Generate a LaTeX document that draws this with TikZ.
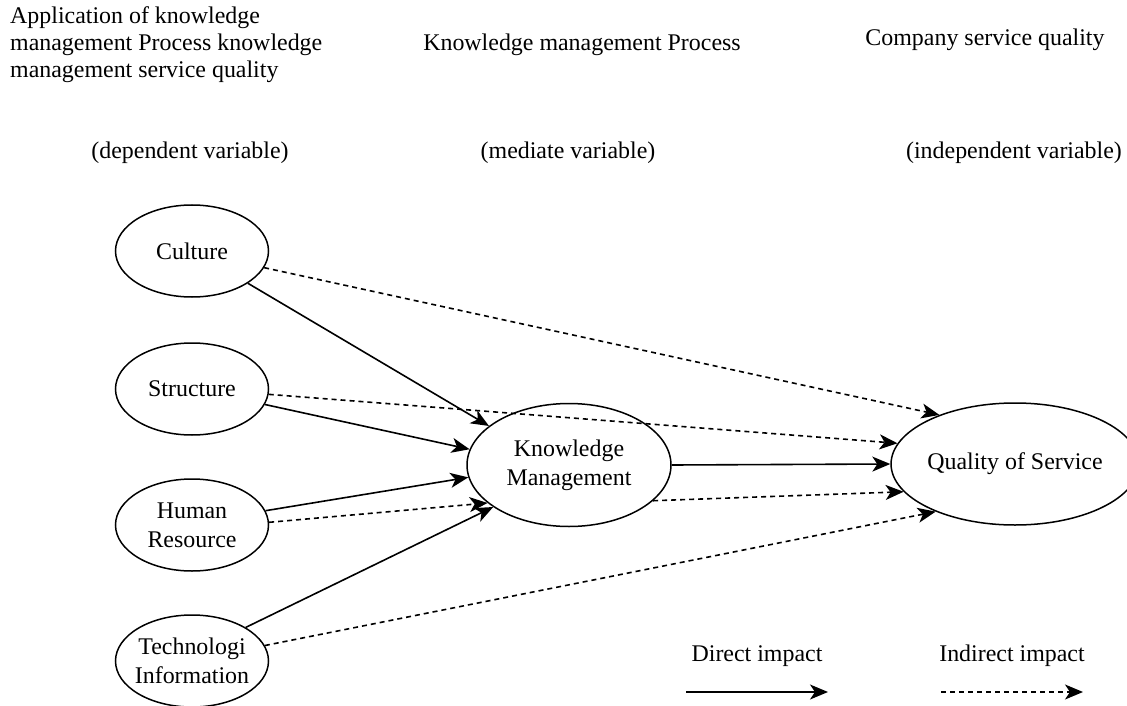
\documentclass[tikz,border=0pt]{standalone}
\usepackage{fontspec}
\setmainfont{Liberation Serif}
\usetikzlibrary{shapes.geometric, arrows.meta}

\begin{document}
\begin{tikzpicture}[x=1bp, y=-1bp, >=Stealth, font=\fontsize{24}{29}\selectfont]
    % Styles
    \tikzstyle{factor} = [ellipse, draw, line width=1.5bp, minimum width=153bp, minimum height=92bp, inner sep=0pt, align=center]
    \tikzstyle{bigfactor} = [factor, minimum width=204bp, minimum height=123bp]
    \tikzstyle{heading} = [inner sep=0pt, align=center]
    \tikzstyle{direct} = [draw, line width=1.6bp, -{Stealth[length=18bp, width=15bp, inset=5bp]}]
    \tikzstyle{indirect} = [direct, dash pattern=on 5bp off 4bp]

    \useasboundingbox (0,0) rectangle (1127,706);

    % Headings
    \node[heading, anchor=west, align=left, font=\fontsize{24}{27}\selectfont] (dephead) at (10,45) {Application of knowledge\\management Process knowledge\\management service quality};
    \node[heading] (medhead) at (582,45) {Knowledge management Process};
    \node[heading] (indhead) at (985,40) {Company service quality};
    \node[heading] (dep) at (190,153) {(dependent variable)};
    \node[heading] (med) at (568,153) {(mediate variable)};
    \node[heading] (ind) at (1014,153) {(independent variable)};

    % Nodes
    \node[factor] (culture) at (192,251) {Culture};
    \node[factor] (structure) at (192,389) {Structure};
    \node[factor] (human) at (192,525) {Human\\Resource};
    \node[factor, inner xsep=-8bp] (tech) at (192,661) {Technologi\\Information};
    \node[bigfactor] (km) at (569,465) {Knowledge\\Management};
    \node[bigfactor, minimum height=122bp] (qos) at (1015,464) {Quality of Service};

    % Edges
    \draw[direct] (culture.-30) -- (km.154);
    \draw[direct] (structure.-12) -- (km.171);
    \draw[direct] (human.11) -- (km.187);
    \draw[direct] (tech.32) -- (km.209);
    \draw[direct] (km.0) -- (qos.180);
    \draw[indirect] (culture.-13) -- (qos.147);
    \draw[indirect] (structure.-4) -- (qos.170);
    \draw[indirect] (human.2) -- (km.205);
    \draw[indirect] (km.-23) -- (qos.194);
    \draw[indirect] (tech.12) -- (qos.211);

    % Legend
    \node[heading] (directlab) at (757,656) {Direct impact};
    \node[heading] (indirectlab) at (1012,656) {Indirect impact};
    \coordinate (d1) at (686,692);
    \coordinate (d2) at (828,692);
    \coordinate (i1) at (941,692);
    \coordinate (i2) at (1083,692);
    \draw[direct] (d1) -- (d2);
    \draw[indirect] (i1) -- (i2);

\end{tikzpicture}
\end{document}
